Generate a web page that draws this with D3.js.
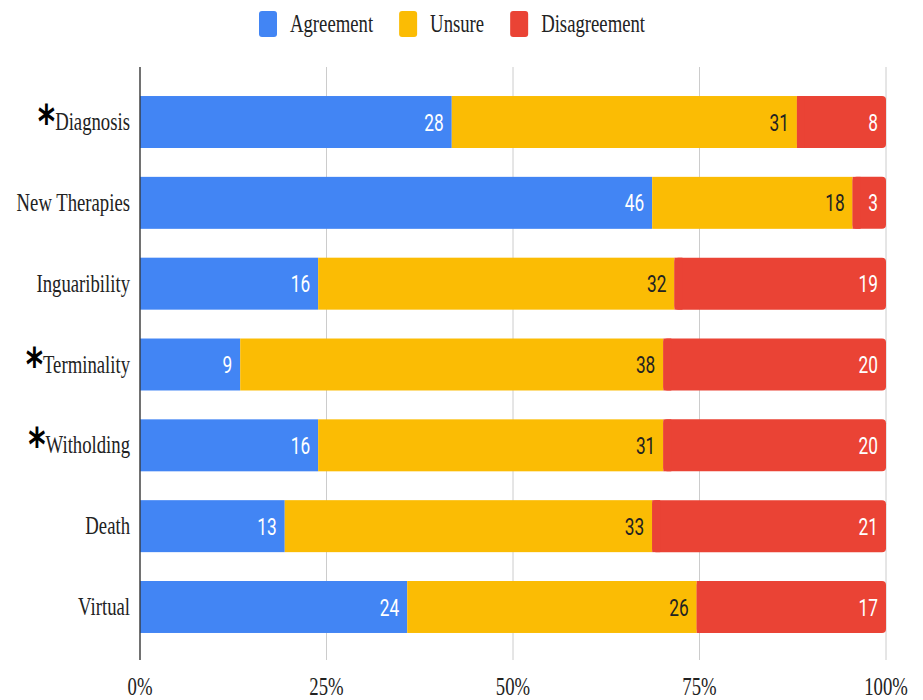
<!DOCTYPE html>
<html>
<head>
<meta charset="utf-8">
<script src="https://cdn.jsdelivr.net/npm/d3@7"></script>
<style>
  body { margin: 0; background: #fff; }
</style>
</head>
<body>
<div id="chart"></div>
<script>
"use strict"

const categories = ["Diagnosis", "New Therapies", "Inguaribility", "Terminality", "Witholding", "Death", "Virtual"];
const starred = [true, false, false, true, true, false, false];
const agreement = [28, 46, 16, 9, 16, 13, 24];
const unsure = [31, 18, 32, 38, 31, 33, 26];
const disagreement = [8, 3, 19, 20, 20, 21, 17];
const seriesNames = ["Agreement", "Unsure", "Disagreement"];
const seriesColors = ["#4285F4", "#FBBC04", "#EA4335"];
const labelColors = ["#fff", "#222", "#fff"];
const tickValues = [0, 0.25, 0.5, 0.75, 1];

const squeeze = 0.72;   // the whole picture looks horizontally squashed
const serif = '"Liberation Serif", "Times New Roman", serif';

let width = 923, height = 700;

let svg = d3.select("#chart")
  .append("svg")
  .attr("width", width)
  .attr("height", height);

let rows = categories.map(function(c, i) {
  return { name: c, star: starred[i], Agreement: agreement[i], Unsure: unsure[i], Disagreement: disagreement[i] };
});

let stack = d3.stack()
  .keys(seriesNames)
  .offset(d3.stackOffsetExpand);
let layers = stack(rows);

let x = d3.scaleLinear()
  .domain([0, 1])
  .range([140, 886]);

let y = d3.scaleBand()
  .domain(categories)
  .range([81.6, 647.4])
  .paddingInner(0.357)
  .paddingOuter(0.1785);

// grid
svg.append("g")
  .selectAll("line")
  .data(tickValues)
  .enter()
  .append("line")
  .attr("x1", d => x(d))
  .attr("x2", d => x(d))
  .attr("y1", 67)
  .attr("y2", 660)
  .style("stroke", "#cccccc")
  .style("stroke-width", 1);

// tick labels
svg.append("g")
  .selectAll("text")
  .data(tickValues)
  .enter()
  .append("text")
  .attr("transform", d => "translate(" + x(d) + ",695) scale(" + squeeze + ",1)")
  .attr("text-anchor", "middle")
  .style("font-family", serif)
  .style("font-size", "26px")
  .style("fill", "#222")
  .text(d3.format(".0%"));

// bars
let groups = svg.append("g")
  .selectAll("g")
  .data(layers)
  .enter()
  .append("g")
  .style("fill", (d, i) => seriesColors[i]);

groups.each(function(layer, li) {
  let g = d3.select(this);
  let last = li === layers.length - 1;
  g.selectAll("rect.seg")
    .data(layer)
    .enter()
    .append("rect")
    .attr("class", "seg")
    .attr("x", d => x(d[0]))
    .attr("y", d => y(d.data.name))
    .attr("width", d => x(d[1]) - x(d[0]))
    .attr("height", y.bandwidth())
    .attr("rx", last ? 4 : 0);
  if (last) {
    // square off the left corners of the rounded end piece
    g.selectAll("rect.fix")
      .data(layer)
      .enter()
      .append("rect")
      .attr("class", "fix")
      .attr("x", d => x(d[0]))
      .attr("y", d => y(d.data.name))
      .attr("width", d => Math.min(8, x(d[1]) - x(d[0])))
      .attr("height", y.bandwidth());
  }
  g.selectAll("text")
    .data(layer)
    .enter()
    .append("text")
    .attr("transform", d => "translate(" + (x(d[1]) - 8) + "," + (y(d.data.name) + y.bandwidth() / 2) + ") scale(" + squeeze + ",1)")
    .attr("dy", "0.36em")
    .attr("text-anchor", "end")
    .style("font-family", "Roboto, sans-serif")
    .style("font-size", "24px")
    .style("fill", labelColors[li])
    .text(d => d.data[layer.key]);
});

// axis line
svg.append("line")
  .attr("x1", x(0))
  .attr("x2", x(0))
  .attr("y1", 67)
  .attr("y2", 660)
  .style("stroke", "#333")
  .style("stroke-width", 1.3);

// category labels
let labels = svg.append("g")
  .selectAll("text")
  .data(rows)
  .enter()
  .append("text")
  .attr("transform", d => "translate(130," + (y(d.name) + y.bandwidth() / 2 + 8) + ") scale(" + squeeze + ",1)")
  .attr("text-anchor", "end")
  .style("font-family", serif)
  .style("font-size", "26px")
  .style("fill", "#222");

labels.filter(d => d.star)
  .append("tspan")
  .attr("dy", 8)
  .style("font-family", '"DejaVu Sans", sans-serif')
  .style("font-weight", "bold")
  .style("font-size", "46px")
  .style("fill", "#000")
  .text("*");

labels.append("tspan")
  .attr("dy", d => d.star ? -8 : 0)
  .text(d => d.name);

// legend
let legend = svg.append("g");
let lx = 259;
seriesNames.forEach(function(name, i) {
  legend.append("rect")
    .attr("x", lx)
    .attr("y", 11)
    .attr("width", 18)
    .attr("height", 26)
    .attr("rx", 3)
    .style("fill", seriesColors[i]);
  let t = legend.append("text")
    .attr("transform", "translate(" + (lx + 31) + ",32) scale(" + squeeze + ",1)")
    .style("font-family", serif)
    .style("font-size", "26px")
    .style("fill", "#222")
    .text(name);
  lx += 31 + t.node().getComputedTextLength() * squeeze + 26;
});
</script>
</body>
</html>
